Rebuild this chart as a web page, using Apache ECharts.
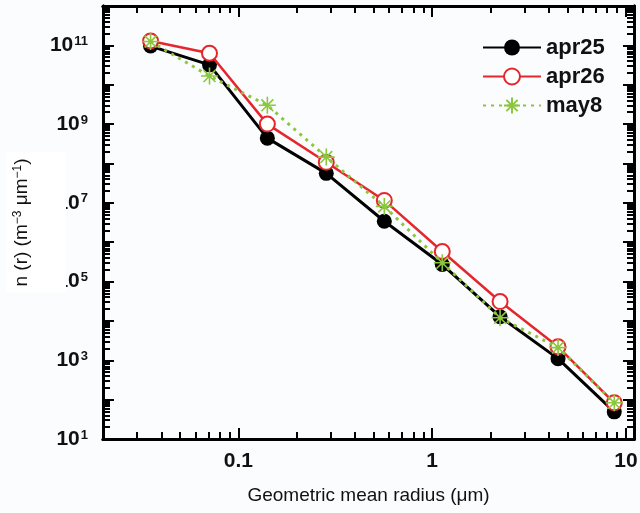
<!DOCTYPE html>
<html>
<head>
<meta charset="utf-8">
<script src="https://cdn.jsdelivr.net/npm/echarts@6/dist/echarts.min.js"></script>
<style>
  html, body { margin: 0; padding: 0; background: #fbfcfd; }
  #chart { width: 640px; height: 513px; }
</style>
</head>
<body>
<div id="chart"></div>
<script>
// Geometric mean radius of each size bin (µm)
const radius = [0.0352, 0.0709, 0.141, 0.284, 0.566, 1.127, 2.24, 4.46, 8.7];

// Number size distribution n(r) (m^-3 µm^-1)
const apr25 = [9.6e10, 3.2e10, 4.4e8, 5.6e7, 3.4e6, 2.7e5, 1.28e4, 1.1e3, 49];
const apr26 = [1.29e11, 6.3e10, 1.0e9, 1.07e8, 1.15e7, 5.8e5, 3.1e4, 2.2e3, 83];
const may8  = [1.25e11, 1.66e10, 3.0e9, 1.45e8, 8.1e6, 3.0e5, 1.2e4, 2.1e3, 83];

// Axis ticks and labels
const xMajor = [0.1, 1, 10];
const xMinor = [0.03, 0.04, 0.05, 0.06, 0.07, 0.08, 0.09,
                0.2, 0.3, 0.4, 0.5, 0.6, 0.7, 0.8, 0.9,
                2, 3, 4, 5, 6, 7, 8, 9];
const yExponents = [1, 2, 3, 4, 5, 6, 7, 8, 9, 10, 11, 12];
const yLabelExponents = [1, 3, 5, 7, 9, 11];

const yMajor = yExponents.map(e => Math.pow(10, e));
const yLabels = yLabelExponents.map(e => Math.pow(10, e));
const yMinor = [];
yExponents.slice(0, -1).forEach(e => {
  for (let m = 2; m <= 9; m++) yMinor.push(m * Math.pow(10, e));
});

const X_MIN = 0.02, X_MAX = 11, Y_MIN = 10, Y_MAX = 1e12;
const black = '#000000', red = '#e5262c', green = '#8cc63f';
const font = 'Arial, "Liberation Sans", Helvetica, sans-serif';

const chart = echarts.init(document.getElementById('chart'), null, { renderer: 'canvas' });

// Two stacked grids share one frame: each carries the major ticks on two
// sides and the minor ticks on the other two.
const frame = { left: 103, right: 6, top: 6, bottom: 74, containLabel: false, outerBoundsMode: 'none' };

function xAxisDef(grid, position, major, withLabel) {
  return {
    gridIndex: grid,
    type: 'log', logBase: 10, min: X_MIN, max: X_MAX, position: position,
    axisLine: { show: true, lineStyle: { color: black, width: 3 } },
    axisTick: {
      show: true, inside: true, interval: 0, length: major ? 11 : 7,
      customValues: major ? xMajor : xMinor,
      lineStyle: { color: black, width: 2 }
    },
    axisLabel: withLabel ? {
      show: true, customValues: xMajor, interval: 0, margin: 12,
      color: '#111', fontFamily: font, fontSize: 21, fontWeight: 'bold',
      formatter: v => String(Number(Number(v).toPrecision(3)))
    } : { show: false },
    splitLine: { show: false }, minorTick: { show: false }
  };
}

function yAxisDef(grid, position, major, withLabel) {
  return {
    gridIndex: grid,
    type: 'log', logBase: 10, min: Y_MIN, max: Y_MAX, position: position,
    axisLine: { show: true, lineStyle: { color: black, width: 3 } },
    axisTick: {
      show: true, inside: true, interval: 0, length: major ? 11 : 7,
      customValues: major ? yMajor : yMinor,
      lineStyle: { color: black, width: 2 }
    },
    axisLabel: withLabel ? {
      show: true, customValues: yLabels, interval: 0, margin: 15,
      formatter: v => '{b|10}{s|' + Math.round(Math.log10(v)) + '}',
      rich: {
        b: { fontFamily: font, fontSize: 21, fontWeight: 'bold', color: '#111' },
        s: { fontFamily: font, fontSize: 13, fontWeight: 'bold', color: '#111',
             verticalAlign: 'top', padding: [0, 0, 0, 1] }
      }
    } : { show: false },
    splitLine: { show: false }, minorTick: { show: false }
  };
}

const xAxes = [
  xAxisDef(0, 'bottom', true, true),
  xAxisDef(0, 'top', false, false),
  xAxisDef(1, 'bottom', false, false),
  xAxisDef(1, 'top', true, false)
];
Object.assign(xAxes[0], {
  name: 'Geometric mean radius (\u03bcm)',
  nameLocation: 'middle', nameGap: 47, nameMoveOverlap: false,
  nameTextStyle: { fontFamily: font, fontSize: 19, color: '#111' }
});

const yAxes = [
  yAxisDef(0, 'left', true, true),
  yAxisDef(0, 'right', false, false),
  yAxisDef(1, 'left', false, false),
  yAxisDef(1, 'right', true, false)
];
// The title sits on the upper left axis so its white box lies over the tick labels.
Object.assign(yAxes[2], {
  z: 5,
  name: '{t|n (r) (m}{s|\u22123}{t| \u03bcm}{s|\u22121}{t|)}',
  nameLocation: 'middle', nameGap: 37, nameRotate: 90, nameMoveOverlap: false,
  nameTextStyle: {
    backgroundColor: '#ffffff', padding: [6, 6, 35, 6],
    rich: {
      t: { fontFamily: font, fontSize: 19, color: '#111' },
      s: { fontFamily: font, fontSize: 12, color: '#111', verticalAlign: 'top' }
    }
  }
});

function pairs(ys) { return radius.map((r, i) => [r, ys[i]]); }

const asterisk = 'path://M0,10L20,10M10,0L10,20M3,3L17,17M17,3L3,17';

chart.setOption({
  animation: false,
  backgroundColor: '#fbfcfd',
  grid: [Object.assign({}, frame), Object.assign({}, frame)],
  xAxis: xAxes,
  yAxis: yAxes,
  legend: {
    left: 477, top: 31, orient: 'vertical',
    itemWidth: 58, itemHeight: 20, itemGap: 6,
    textStyle: { fontFamily: font, fontSize: 22, fontWeight: 'bold', color: '#111', lineHeight: 23 },
    data: ['apr25', 'apr26', 'may8']
  },
  series: [
    {
      name: 'apr25', type: 'line', data: pairs(apr25),
      xAxisIndex: 0, yAxisIndex: 0,
      symbol: 'circle', symbolSize: 15,
      lineStyle: { color: black, width: 3 },
      itemStyle: { color: black },
      emphasis: { disabled: true }, z: 2
    },
    {
      name: 'apr26', type: 'line', data: pairs(apr26),
      xAxisIndex: 0, yAxisIndex: 0,
      symbol: 'emptyCircle', symbolSize: 15,
      lineStyle: { color: red, width: 2.5 },
      itemStyle: { color: red, borderColor: red, borderWidth: 2 },
      emphasis: { disabled: true }, z: 3
    },
    {
      name: 'may8', type: 'line', data: pairs(may8),
      xAxisIndex: 0, yAxisIndex: 0,
      symbol: asterisk, symbolSize: 17,
      lineStyle: { color: green, width: 3, type: [3, 5] },
      itemStyle: { color: green, borderColor: green, borderWidth: 1.6 },
      emphasis: { disabled: true }, z: 4
    }
  ]
});
</script>
</body>
</html>
